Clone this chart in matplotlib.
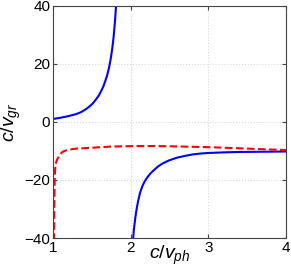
import matplotlib
matplotlib.use("Agg")
import matplotlib.pyplot as plt

plt.rcParams['font.family'] = ['Liberation Sans', 'DejaVu Sans']
plt.rcParams['mathtext.fontset'] = 'custom'
plt.rcParams['mathtext.it'] = 'Liberation Sans:italic'
plt.rcParams['mathtext.rm'] = 'Liberation Sans'

# blue curve, left branch
x_left = [1.0, 1.1, 1.2, 1.3, 1.36, 1.42, 1.47, 1.51, 1.55, 1.59, 1.62, 1.65, 1.68,
          1.70, 1.72, 1.74, 1.76, 1.78, 1.79, 1.80, 1.81, 1.815]
y_left = [1.0, 1.45, 2.0, 2.7, 3.35, 4.3, 5.3, 6.3, 7.6, 9.1, 10.6, 12.3, 14.6,
          16.3, 18.5, 21.2, 24.6, 29.1, 32.0, 35.3, 39.2, 41.5]

# blue curve, right branch
x_right = [2.03, 2.04, 2.06, 2.08, 2.1, 2.12, 2.15, 2.18, 2.22, 2.26, 2.3, 2.35, 2.4,
           2.45, 2.5, 2.6, 2.7, 2.8, 2.9, 3.0, 3.2, 3.4, 3.6, 3.8, 4.0]
y_right = [-41, -37.5, -33, -29.5, -26.8, -24.5, -22.2, -20.5, -18.9, -17.6, -16.6, -15.4, -14.5,
           -13.8, -13.2, -12.3, -11.7, -11.2, -10.9, -10.7, -10.5, -10.35, -10.3, -10.25, -10.2]

# red dashed curve
x_red = [1.015, 1.018, 1.02, 1.023, 1.027, 1.035, 1.05, 1.07, 1.09, 1.12, 1.16, 1.22, 1.3,
         1.5, 1.75, 2.0, 2.25, 2.5, 3.0, 3.5, 4.0]
y_red = [-41, -30, -24, -19, -16.5, -14.5, -13.2, -12.2, -11.2, -10.4, -9.9, -9.5, -9.2,
         -8.9, -8.5, -8.35, -8.3, -8.4, -8.7, -9.2, -9.7]

xticks = [1, 2, 3, 4]
yticks = [-40, -20, 0, 20, 40]

fig = plt.figure(figsize=(2.91, 2.70), dpi=100)
ax = fig.add_axes([0.182, 0.1185, 0.801, 0.86])

ax.plot(x_left, y_left, color='#0000ff', lw=1.5)
ax.plot(x_right, y_right, color='#0000ff', lw=1.5)
ax.plot(x_red, y_red, color='#ff0000', lw=1.5, linestyle='--')

ax.set_xlim(1, 4)
ax.set_ylim(-40, 40)
ax.set_xticks(xticks)
ax.set_yticks(yticks)
ax.grid(True, linestyle=':', color='#d8d8d8', lw=0.8)
ax.tick_params(direction='in', top=True, right=True, labelsize=11, length=3,
               color='#444444', pad=2)
for s in ax.spines.values():
    s.set_color('#444444')
    s.set_linewidth(0.8)

ax.set_xlabel(r'$c/v_{ph}$', fontsize=14)
ax.set_ylabel(r'$c/v_{gr}$', fontsize=14)
ax.xaxis.set_label_coords(0.5, -0.025)
ax.yaxis.set_label_coords(-0.13, 0.5)

fig.savefig('out.png', dpi=100)
